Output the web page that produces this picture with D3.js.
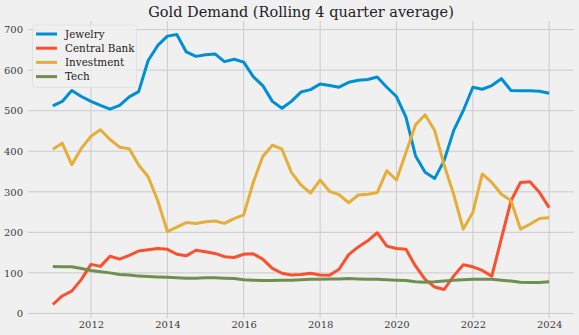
<!DOCTYPE html>
<html>
<head>
<meta charset="utf-8">
<script src="https://cdn.jsdelivr.net/npm/d3@7"></script>
<style>
  html, body { margin: 0; padding: 0; background: #f0f0f0; }
  svg { display: block; font-family: "DejaVu Serif", serif; }
</style>
</head>
<body>
<svg id="chart" width="579" height="335"></svg>
<script>
// quarterly rolling 4-quarter averages, 2011 Q1 .. 2024 Q1 (tonnes)
const startYear = 2011;
const jewelry = [512, 523, 550, 535, 523, 513, 504, 513, 534, 547, 624, 661, 684, 688, 645, 634, 638, 640, 621, 627,
  620, 584, 562, 523, 506, 523, 546, 552, 566, 562, 558, 570, 575, 577, 583, 558, 535, 484, 389, 348,
  333, 377, 451, 500, 558, 553, 562, 579, 550, 549, 549, 548, 543];
const centralBank = [22, 43, 55, 84, 121, 116, 141, 134, 143, 154, 157, 160, 158, 146, 142, 156, 152, 148, 140, 138,
  146, 147, 134, 111, 99, 95, 96, 99, 95, 94, 109, 145, 164, 179, 199, 166, 160, 158, 117, 84,
  65, 59, 92, 120, 115, 106, 92, 185, 278, 323, 325, 298, 261];
const investment = [405, 420, 367, 407, 437, 453, 429, 410, 406, 366, 337, 278, 202, 213, 224, 222, 226, 228, 222, 234,
  243, 323, 387, 415, 405, 348, 317, 297, 329, 301, 293, 273, 292, 294, 298, 352, 329, 397, 465, 490,
  451, 366, 294, 208, 249, 344, 323, 294, 278, 208, 220, 234, 236];
const tech = [116, 115, 115, 111, 106, 103, 100, 96, 95, 92, 91, 90, 89, 88, 87, 87, 88, 88, 87, 86,
  83, 82, 81, 81, 82, 82, 83, 84, 84, 85, 85, 86, 85, 84, 84, 83, 82, 81, 78, 77,
  78, 80, 82, 83, 84, 84, 84, 82, 80, 77, 76, 76, 78];

const seriesNames = ["Jewelry", "Central Bank", "Investment", "Tech"];
const seriesValues = [jewelry, centralBank, investment, tech];
const colours = ["#008fd5", "#fc4f30", "#e5ae38", "#6d904f"];
const yTicks = [0, 100, 200, 300, 400, 500, 600, 700];
const xTickYears = [2012, 2014, 2016, 2018, 2020, 2022, 2024];
const title = "Gold Demand (Rolling 4 quarter average)";

const quarterDate = i => new Date(startYear + Math.floor(i / 4), (i % 4) * 3, 1);

const series = seriesNames.map((name, k) => ({
  name: name,
  colour: colours[k],
  values: seriesValues[k].map((v, i) => ({ date: quarterDate(i), value: v }))
}));

const svg = d3.select("#chart");
const W = +svg.attr("width"), H = +svg.attr("height");
const margin = { top: 21, right: 5, bottom: 17, left: 28 };
const width = W - margin.left - margin.right;
const height = H - margin.top - margin.bottom;

// matplotlib-style 5% padding around the data
const allDates = series[0].values.map(d => d.date);
const [d0, d1] = d3.extent(allDates);
const dPad = (d1 - d0) * 0.05;
const allVals = seriesValues.flat();
const [v0, v1] = d3.extent(allVals);
const vPad = (v1 - v0) * 0.05;

const x = d3.scaleTime()
  .domain([new Date(+d0 - dPad), new Date(+d1 + dPad)])
  .range([0, width]);
const y = d3.scaleLinear()
  .domain([v0 - vPad, v1 + vPad])
  .range([height, 0]);

svg.append("rect").attr("width", W).attr("height", H).attr("fill", "#f0f0f0");

const g = svg.append("g").attr("transform", `translate(${margin.left},${margin.top})`);

const xTicks = xTickYears.map(yr => new Date(yr, 0, 1));

// grid
g.append("g").selectAll("line").data(yTicks).join("line")
  .attr("x1", 0).attr("x2", width)
  .attr("y1", d => y(d)).attr("y2", d => y(d))
  .attr("stroke", "#cbcbcb").attr("stroke-width", 1);
g.append("g").selectAll("line").data(xTicks).join("line")
  .attr("x1", d => x(d)).attr("x2", d => x(d))
  .attr("y1", 0).attr("y2", height)
  .attr("stroke", "#cbcbcb").attr("stroke-width", 1);

// axes
const yAxis = g.append("g")
  .call(d3.axisLeft(y).tickValues(yTicks).tickSize(0).tickPadding(5));
const xAxis = g.append("g")
  .attr("transform", `translate(0,${height})`)
  .call(d3.axisBottom(x).tickValues(xTicks).tickSize(0).tickPadding(3).tickFormat(d3.timeFormat("%Y")));
[xAxis, yAxis].forEach(a => {
  a.select(".domain").remove();
  a.selectAll("text").attr("font-family", "DejaVu Serif").attr("font-size", 10).attr("fill", "#3c3c3c");
});

// lines
const line = d3.line().x(d => x(d.date)).y(d => y(d.value));
g.append("g").selectAll("path").data(series).join("path")
  .attr("d", d => line(d.values))
  .attr("fill", "none")
  .attr("stroke", d => d.colour)
  .attr("stroke-width", 3)
  .attr("stroke-linejoin", "round")
  .attr("stroke-linecap", "butt");

// title
svg.append("text")
  .attr("x", margin.left + width / 2)
  .attr("y", 16.5)
  .attr("text-anchor", "middle")
  .attr("font-size", 14.5)
  .attr("fill", "#222")
  .text(title);

// legend
const legend = svg.append("g").attr("transform", "translate(32.5,25)");
legend.append("rect")
  .attr("width", 104).attr("height", 62.5)
  .attr("rx", 2.5)
  .attr("fill", "#f0f0f0").attr("fill-opacity", 0.8)
  .attr("stroke", "#dedede").attr("stroke-width", 0.8);
const rows = legend.selectAll("g.row").data(series).join("g")
  .attr("class", "row")
  .attr("transform", (d, i) => `translate(0,${9 + i * 14.2})`);
rows.append("line")
  .attr("x1", 3.5).attr("x2", 24.5)
  .attr("stroke", d => d.colour).attr("stroke-width", 3);
rows.append("text")
  .attr("x", 32.5).attr("dy", "0.35em")
  .attr("font-size", 10.4).attr("fill", "#222")
  .text(d => d.name);
</script>
</body>
</html>
